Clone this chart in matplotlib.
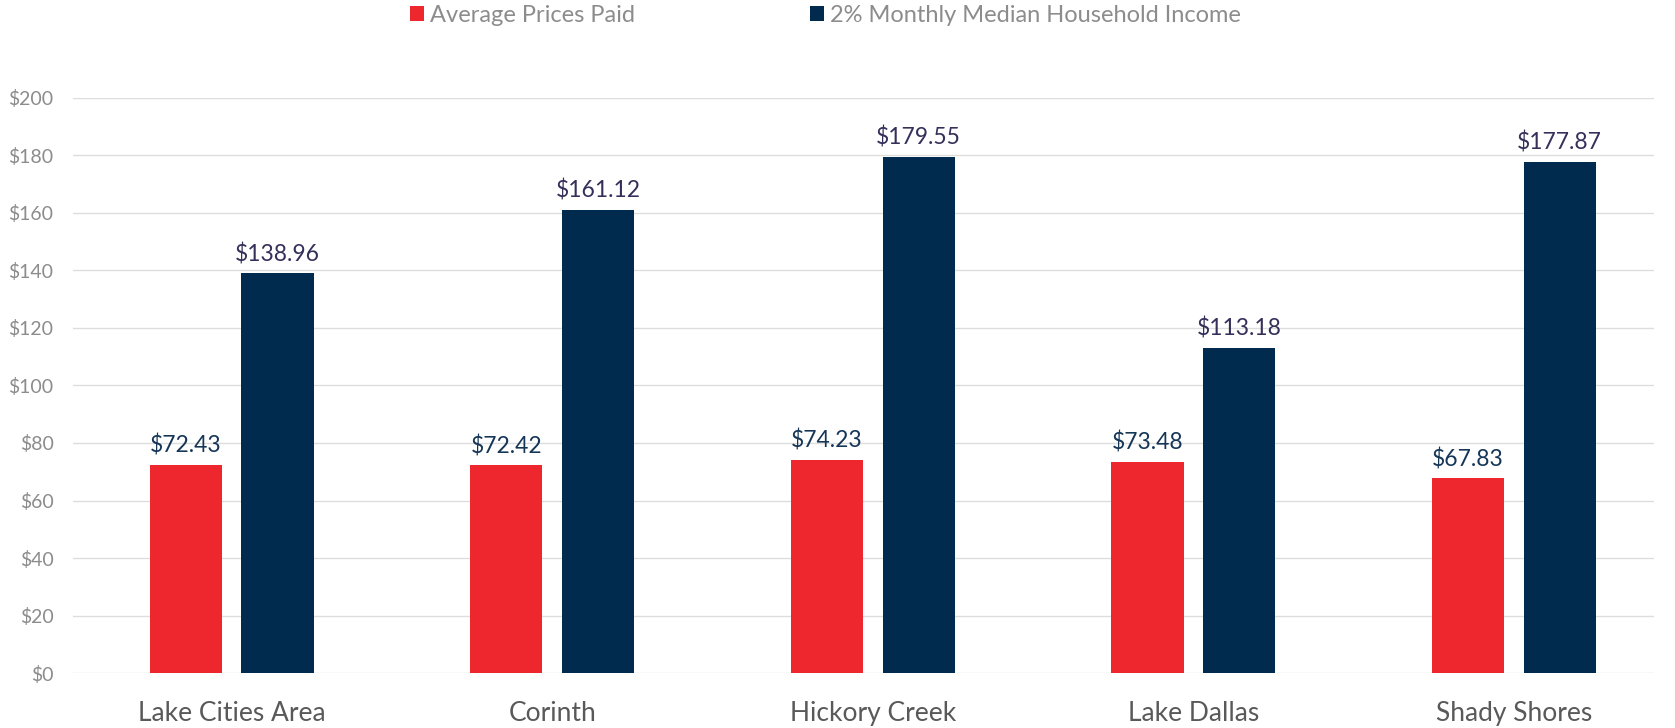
import numpy as np
import matplotlib.pyplot as plt
from matplotlib.ticker import FuncFormatter

plt.rcParams['font.family'] = ['Lato', 'DejaVu Sans']

towns = ["Lake Cities Area", "Corinth", "Hickory Creek", "Lake Dallas", "Shady Shores"]
avg_paid = [72.43, 72.42, 74.23, 73.48, 67.83]
income_2pct = [138.96, 161.12, 179.55, 113.18, 177.87]
series_names = ["Average Prices Paid", "2% Monthly Median Household Income"]

red = "#EE272E"
navy = "#002B4F"

fig = plt.figure(figsize=(16.75, 7.28), dpi=100)
ax = fig.add_axes([0.0436, 0.0755, 0.944, 0.79])

x = np.arange(len(towns))
w = 0.225
off = 0.143
b1 = ax.bar(x - off, avg_paid, w, color=red, label=series_names[0], zorder=3)
b2 = ax.bar(x + off, income_2pct, w, color=navy, label=series_names[1], zorder=3)

for rect, v in zip(b1, avg_paid):
    ax.text(rect.get_x() + rect.get_width() / 2, v + 2.7, f"${v:.2f}",
            ha="center", va="bottom", fontsize=16.5, color="#163657")
for rect, v in zip(b2, income_2pct):
    ax.text(rect.get_x() + rect.get_width() / 2, v + 2.9, f"${v:.2f}",
            ha="center", va="bottom", fontsize=16.5, color="#34305A")

ax.set_xlim(-0.495, len(towns) - 1 + 0.438)
ax.set_ylim(0, 200)
ax.set_yticks(range(0, 201, 20))
ax.yaxis.set_major_formatter(FuncFormatter(lambda v, p: f"${v:.0f}"))
ax.set_xticks(x)
ax.set_xticklabels(towns, fontsize=19, color="#595959")
ax.tick_params(axis="x", length=0, pad=20)
ax.tick_params(axis="y", length=0, pad=14, labelsize=14, labelcolor="#8C8C8C")
ax.grid(axis="y", color="#DDDDDD", linewidth=1, zorder=0)
for s in ax.spines.values():
    s.set_visible(False)

fig.legend(loc="center", bbox_to_anchor=(0.4927, 0.979), ncol=2, frameon=False,
           fontsize=17, labelcolor="#8C8C8C", handlelength=0.6, handleheight=0.6,
           handletextpad=0.25, columnspacing=7.4)

fig.savefig("out.png", dpi=100)
